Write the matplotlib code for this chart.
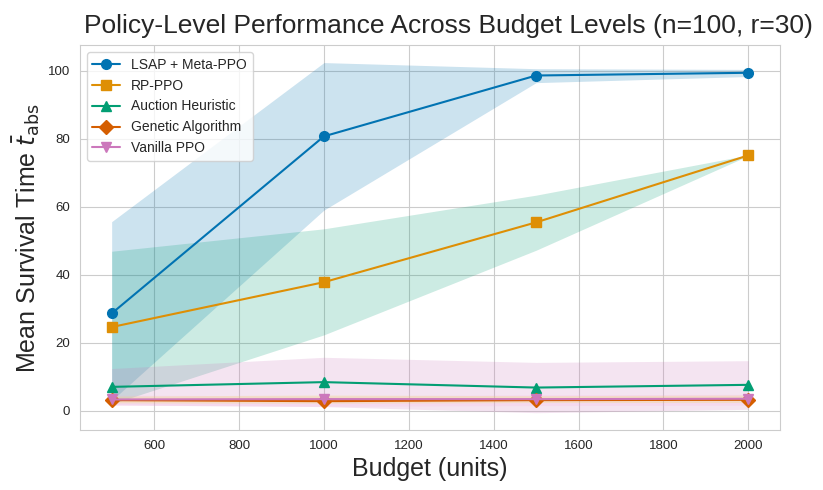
import numpy as np
import matplotlib.pyplot as plt
import seaborn as sns

# Datos
budgets = [500, 1000, 1500, 2000]

lsap_mean = [28.6, 80.7, 98.6, 99.4]
lsap_low = [3.0, 59.0, 96.5, 98.3]
lsap_high = [55.6, 102.4, 100.6, 100.4]

rp_mean = [24.6, 37.8, 55.4, 75.1]
rp_low = [2.0, 22.3, 47.2, 75.0]
rp_high = [46.9, 53.5, 63.4, 75.2]

auction_mean = [7.0, 8.4, 6.8, 7.6]
auction_low = [1.7, 1.2, -0.6, 0.4]
auction_high = [12.4, 15.7, 14.2, 14.7]

genetic_mean = [3.1, 2.8, 3.1, 3.2]
genetic_low = [1.6, 1.3, 1.5, 1.6]
genetic_high = [4.6, 4.3, 4.7, 4.8]

vanilla_mean = [3.3, 3.4, 3.4, 3.5]
vanilla_low = [2.3, 2.2, 2.4, 2.4]
vanilla_high = [4.3, 4.6, 4.4, 4.6]

labels = ["LSAP + Meta-PPO", "RP-PPO", "Auction Heuristic", "Genetic Algorithm", "Vanilla PPO"]

sns.set_style("whitegrid")
plt.rcParams['font.family'] = ['Liberation Sans', 'DejaVu Sans']
pal = sns.color_palette("colorblind")

fig, ax = plt.subplots(figsize=(8.23, 4.9), dpi=100)
plt.subplots_adjust(left=0.097, right=0.948, top=0.908, bottom=0.122)

series = [
    (lsap_mean, lsap_low, lsap_high, "o", pal[0], pal[0]),
    (rp_mean, rp_low, rp_high, "s", pal[1], pal[2]),
    (auction_mean, auction_low, auction_high, "^", pal[2], pal[4]),
    (genetic_mean, genetic_low, genetic_high, "D", pal[3], pal[6]),
    (vanilla_mean, vanilla_low, vanilla_high, "v", pal[4], pal[8]),
]

for (m, lo, hi, mk, c, fc), lab in zip(series, labels):
    ax.plot(budgets, m, marker=mk, color=c, label=lab, markersize=7, linewidth=1.5)
    ax.fill_between(budgets, lo, hi, color=fc, alpha=0.2, linewidth=0)

ax.set_title("Policy-Level Performance Across Budget Levels (n=100, r=30)",
             fontsize=19, x=0.526, pad=9)
ax.set_xlabel("Budget (units)", fontsize=18)
ax.set_ylabel(r"Mean Survival Time $\bar{t}_{\mathrm{abs}}$", fontsize=18)
ax.tick_params(labelsize=9.5)
ax.legend(loc="upper left", fontsize=10)

plt.savefig("out.png")
